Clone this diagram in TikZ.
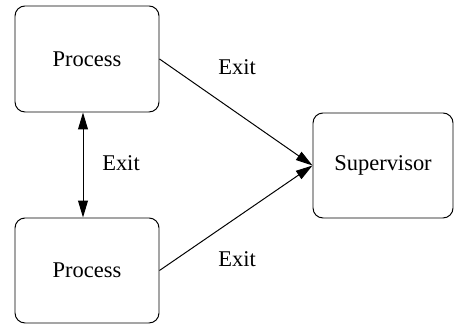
\documentclass[tikz,border=0pt]{standalone}
\usepackage{fontspec}
\setmainfont{Liberation Serif}
\usetikzlibrary{arrows.meta}

\tikzset{
  box/.style={draw,rounded corners=0.25cm,line width=0.7pt,fontsz},
  fontsz/.style={font=\fontsize{16}{19}\selectfont},
  flow/.style={line width=0.7pt,-{Triangle[length=12pt,width=7pt]}},
}

\begin{document}
\begin{tikzpicture}
\useasboundingbox (0,0) rectangle (11.375,8.175);

\node[box,minimum width=3.6cm,minimum height=2.65cm] (proc1) at (2.175,6.7) {Process\hspace{0.4cm}};
\node[box,minimum width=3.6cm,minimum height=2.625cm] (proc2) at (2.175,1.4125) {Process\hspace{0.4cm}};
\node[box,minimum width=3.5cm,minimum height=2.625cm] (sup) at (9.575,4.0375) {Supervisor};

\draw[flow,{Triangle[length=12pt,width=7pt]}-{Triangle[length=12pt,width=7pt]}] ([xshift=-1mm]proc1.south) -- ([xshift=-1mm]proc2.north);
\draw[flow] (proc1.east) -- (sup.west);
\draw[flow] (proc2.east) -- (sup.west);

\node[fontsz] (exitmid) at (3.025,4.1) {Exit};
\node[fontsz] (exittop) at (5.925,6.5) {Exit};
\node[fontsz] (exitbot) at (5.925,1.7) {Exit};
\end{tikzpicture}
\end{document}
